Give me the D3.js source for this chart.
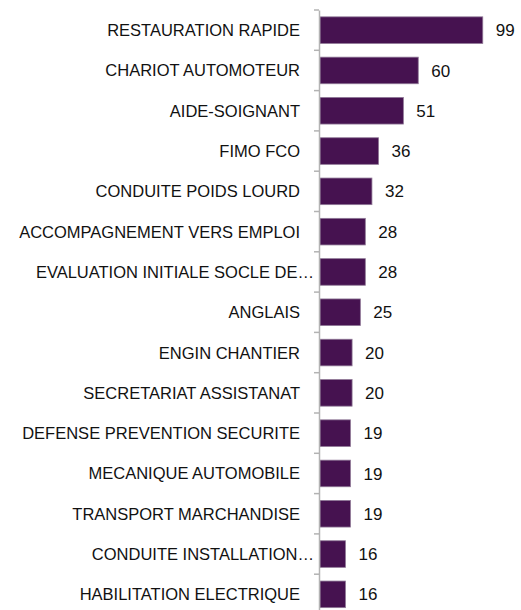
<!DOCTYPE html>
<html>
<head>
<meta charset="utf-8">
<script src="https://cdn.jsdelivr.net/npm/d3@7"></script>
<style>
  body { margin: 0; background: #fff; }
  svg { display: block; font-family: "Liberation Sans", Arial, sans-serif; }
</style>
</head>
<body>
<svg id="chart"></svg>
<script>
// formations (in display order, top to bottom)
const categories = [
  "RESTAURATION RAPIDE",
  "CHARIOT AUTOMOTEUR",
  "AIDE-SOIGNANT",
  "FIMO FCO",
  "CONDUITE POIDS LOURD",
  "ACCOMPAGNEMENT VERS EMPLOI",
  "EVALUATION INITIALE SOCLE DE…",
  "ANGLAIS",
  "ENGIN CHANTIER",
  "SECRETARIAT ASSISTANAT",
  "DEFENSE PREVENTION SECURITE",
  "MECANIQUE AUTOMOBILE",
  "TRANSPORT MARCHANDISE",
  "CONDUITE INSTALLATION…",
  "HABILITATION ELECTRIQUE"
];
const values = [99, 60, 51, 36, 32, 28, 28, 25, 20, 20, 19, 19, 19, 16, 16];

const data = categories.map((c, i) => ({ cat: c, value: values[i] }));

const width = 521, height = 610;
const axisX = 319;

const svg = d3.select("#chart")
  .attr("width", width)
  .attr("height", height);

const x = d3.scaleLinear()
  .domain([0, 120])
  .range([axisX, axisX + 198.5]);

const y = d3.scaleBand()
  .domain(categories)
  .range([10, 10 + 15 * 40.3])
  .paddingInner(0.34)
  .paddingOuter(0.17);

// barres
svg.selectAll(".bar")
  .data(data)
  .enter().append("rect")
  .attr("class", "bar")
  .attr("x", x(0) + 1)
  .attr("y", d => y(d.cat))
  .attr("width", d => x(d.value) - x(0) - 1)
  .attr("height", y.bandwidth())
  .attr("fill", "#461250")
  .attr("stroke", "#8f7896")
  .attr("stroke-width", 0.8);

// axe vertical
const yAxis = svg.append("g")
  .attr("transform", `translate(${axisX},0)`)
  .call(d3.axisLeft(y).tickSize(0).tickSizeOuter(0).tickPadding(19));

yAxis.select(".domain")
  .attr("stroke", "#b3b3b3")
  .attr("stroke-width", 1.5);

yAxis.selectAll("text")
  .style("font-size", "16.5px")
  .style("font-family", "\"Liberation Sans\", Arial, sans-serif")
  .attr("fill", "#111")
  .attr("dy", "0.36em");

// les libellés tronqués vont plus près de l'axe
yAxis.selectAll(".tick text")
  .filter(d => d.endsWith("…"))
  .attr("x", -5);

// petits traits entre les catégories
const step = y.step();
svg.append("g")
  .selectAll("line")
  .data(categories)
  .enter().append("line")
  .attr("x1", axisX - 5)
  .attr("x2", axisX)
  .attr("y1", d => y(d) - step * y.paddingInner() / 2)
  .attr("y2", d => y(d) - step * y.paddingInner() / 2)
  .attr("stroke", "#b3b3b3")
  .attr("stroke-width", 1.5);

// valeurs à droite des barres
svg.selectAll(".label")
  .data(data)
  .enter().append("text")
  .attr("class", "label")
  .attr("x", d => x(d.value) + 13)
  .attr("y", d => y(d.cat) + y.bandwidth() / 2)
  .attr("dy", "0.36em")
  .style("font-size", "17px")
  .attr("fill", "#111")
  .text(d => d.value);
</script>
</body>
</html>
